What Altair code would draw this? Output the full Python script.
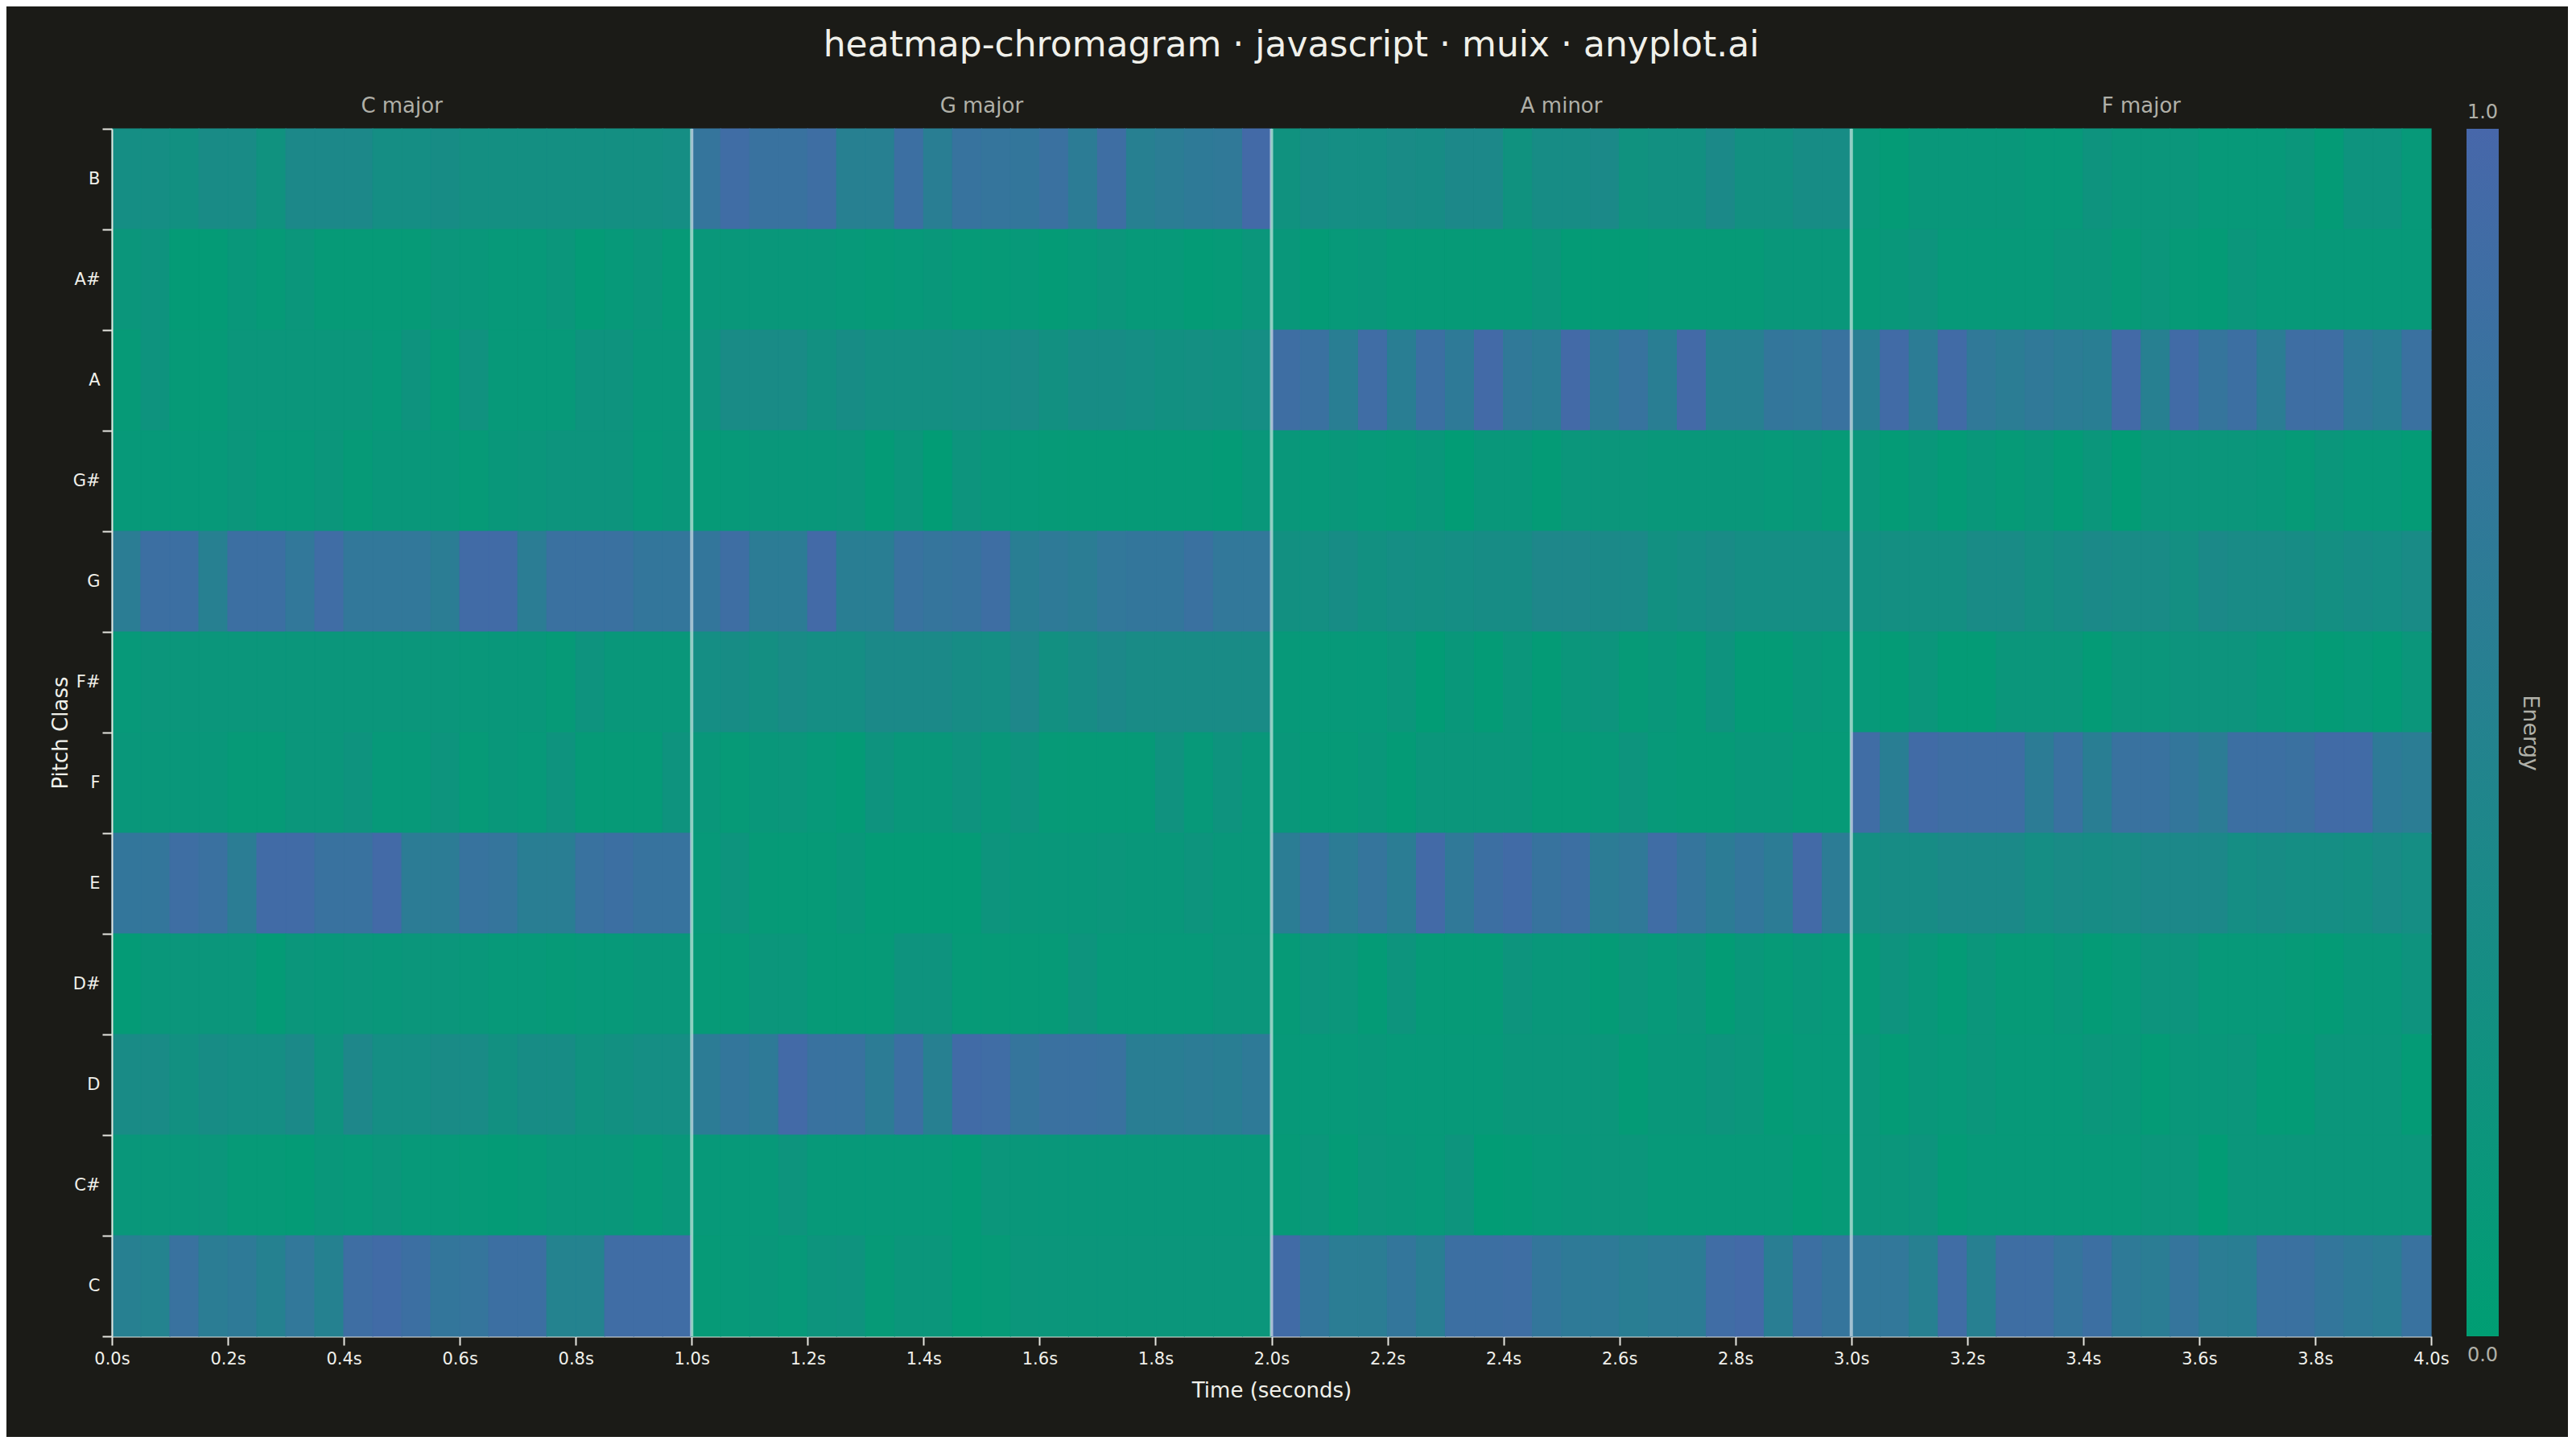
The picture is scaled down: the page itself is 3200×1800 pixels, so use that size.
import altair as alt
import pandas as pd

# ---------------- data ----------------
PITCHES = ["B", "A#", "A", "G#", "G", "F#", "F", "E", "D#", "D", "C#", "C"]
FRAME = 0.05  # seconds per frame (20 frames per second, 80 frames)

B_ENERGY = [
    0.30, 0.30, 0.25, 0.35, 0.35, 0.22, 0.40, 0.40, 0.40, 0.30, 0.30, 0.32, 0.28, 0.28, 0.28, 0.28, 0.28, 0.28, 0.28, 0.30,
    0.75, 0.90, 0.80, 0.80, 0.88, 0.55, 0.55, 0.85, 0.58, 0.78, 0.75, 0.72, 0.82, 0.62, 0.88, 0.55, 0.60, 0.65, 0.68, 0.95,
    0.22, 0.32, 0.30, 0.30, 0.35, 0.32, 0.40, 0.40, 0.22, 0.32, 0.32, 0.38, 0.22, 0.25, 0.25, 0.38, 0.25, 0.25, 0.32, 0.32,
    0.12, 0.05, 0.12, 0.12, 0.12, 0.12, 0.10, 0.10, 0.20, 0.15, 0.15, 0.15, 0.10, 0.10, 0.10, 0.15, 0.05, 0.20, 0.20, 0.10,
]
AS_ENERGY = [
    0.15, 0.20, 0.05, 0.05, 0.12, 0.08, 0.15, 0.08, 0.08, 0.08, 0.08, 0.15, 0.12, 0.10, 0.10, 0.15, 0.05, 0.10, 0.15, 0.08,
    0.12, 0.12, 0.12, 0.12, 0.12, 0.10, 0.08, 0.10, 0.12, 0.08, 0.08, 0.10, 0.05, 0.10, 0.15, 0.10, 0.10, 0.05, 0.08, 0.15,
    0.12, 0.05, 0.10, 0.12, 0.08, 0.08, 0.08, 0.08, 0.08, 0.15, 0.05, 0.05, 0.05, 0.08, 0.08, 0.08, 0.08, 0.12, 0.12, 0.12,
    0.08, 0.12, 0.18, 0.10, 0.10, 0.10, 0.10, 0.15, 0.15, 0.08, 0.15, 0.08, 0.05, 0.15, 0.10, 0.10, 0.10, 0.10, 0.10, 0.10,
]
A_ENERGY = [
    0.08, 0.20, 0.08, 0.08, 0.15, 0.15, 0.15, 0.15, 0.15, 0.10, 0.20, 0.08, 0.22, 0.10, 0.10, 0.10, 0.20, 0.20, 0.12, 0.12,
    0.20, 0.35, 0.35, 0.35, 0.25, 0.32, 0.28, 0.28, 0.28, 0.30, 0.30, 0.35, 0.25, 0.32, 0.32, 0.30, 0.25, 0.28, 0.25, 0.30,
    0.88, 0.82, 0.58, 0.90, 0.58, 0.85, 0.65, 0.95, 0.68, 0.60, 0.95, 0.65, 0.78, 0.58, 0.95, 0.55, 0.55, 0.72, 0.70, 0.80,
    0.58, 0.92, 0.62, 0.92, 0.68, 0.60, 0.68, 0.62, 0.58, 0.95, 0.55, 0.92, 0.75, 0.85, 0.60, 0.88, 0.88, 0.65, 0.58, 0.82,
]
GS_ENERGY = [
    0.10, 0.10, 0.10, 0.10, 0.15, 0.10, 0.10, 0.15, 0.08, 0.12, 0.12, 0.12, 0.08, 0.12, 0.15, 0.18, 0.18, 0.18, 0.10, 0.12,
    0.08, 0.10, 0.12, 0.12, 0.12, 0.15, 0.05, 0.15, 0.03, 0.18, 0.12, 0.10, 0.08, 0.08, 0.08, 0.08, 0.08, 0.08, 0.05, 0.12,
    0.12, 0.10, 0.12, 0.10, 0.08, 0.12, 0.03, 0.12, 0.12, 0.05, 0.15, 0.15, 0.15, 0.12, 0.12, 0.12, 0.12, 0.10, 0.12, 0.08,
    0.15, 0.05, 0.12, 0.05, 0.12, 0.08, 0.12, 0.05, 0.15, 0.03, 0.15, 0.15, 0.15, 0.15, 0.12, 0.08, 0.15, 0.10, 0.10, 0.05,
]
G_ENERGY = [
    0.60, 0.85, 0.85, 0.55, 0.85, 0.85, 0.70, 0.90, 0.70, 0.70, 0.70, 0.60, 0.92, 0.92, 0.60, 0.82, 0.82, 0.82, 0.72, 0.72,
    0.72, 0.88, 0.62, 0.62, 0.95, 0.58, 0.58, 0.80, 0.75, 0.78, 0.88, 0.58, 0.65, 0.60, 0.70, 0.72, 0.72, 0.82, 0.70, 0.70,
    0.25, 0.28, 0.32, 0.25, 0.30, 0.28, 0.30, 0.32, 0.32, 0.42, 0.42, 0.38, 0.38, 0.25, 0.30, 0.35, 0.30, 0.30, 0.30, 0.30,
    0.25, 0.28, 0.28, 0.28, 0.35, 0.35, 0.28, 0.32, 0.38, 0.35, 0.35, 0.28, 0.38, 0.35, 0.35, 0.32, 0.28, 0.32, 0.30, 0.35,
]
FS_ENERGY = [
    0.10, 0.15, 0.15, 0.15, 0.15, 0.15, 0.15, 0.15, 0.15, 0.15, 0.15, 0.15, 0.12, 0.12, 0.12, 0.08, 0.20, 0.12, 0.12, 0.12,
    0.30, 0.32, 0.28, 0.35, 0.30, 0.30, 0.38, 0.38, 0.38, 0.32, 0.30, 0.42, 0.25, 0.32, 0.40, 0.35, 0.35, 0.35, 0.35, 0.35,
    0.10, 0.10, 0.10, 0.10, 0.15, 0.03, 0.12, 0.05, 0.15, 0.05, 0.15, 0.18, 0.08, 0.12, 0.08, 0.20, 0.05, 0.05, 0.12, 0.10,
    0.10, 0.05, 0.15, 0.05, 0.05, 0.15, 0.15, 0.15, 0.05, 0.15, 0.15, 0.18, 0.18, 0.18, 0.12, 0.10, 0.05, 0.10, 0.05, 0.15,
]
F_ENERGY = [
    0.12, 0.12, 0.12, 0.12, 0.08, 0.08, 0.15, 0.15, 0.20, 0.10, 0.10, 0.18, 0.08, 0.12, 0.10, 0.20, 0.08, 0.08, 0.08, 0.20,
    0.12, 0.08, 0.12, 0.15, 0.10, 0.05, 0.20, 0.12, 0.12, 0.20, 0.12, 0.20, 0.08, 0.08, 0.08, 0.08, 0.22, 0.10, 0.20, 0.12,
    0.12, 0.08, 0.08, 0.12, 0.05, 0.15, 0.15, 0.15, 0.15, 0.08, 0.08, 0.10, 0.18, 0.10, 0.08, 0.08, 0.12, 0.12, 0.08, 0.08,
    0.90, 0.58, 0.92, 0.88, 0.88, 0.88, 0.62, 0.82, 0.58, 0.80, 0.80, 0.72, 0.62, 0.85, 0.85, 0.82, 0.92, 0.92, 0.65, 0.60,
]
E_ENERGY = [
    0.72, 0.72, 0.88, 0.82, 0.60, 0.92, 0.92, 0.80, 0.80, 0.95, 0.62, 0.62, 0.78, 0.75, 0.58, 0.58, 0.80, 0.85, 0.78, 0.78,
    0.10, 0.18, 0.08, 0.08, 0.08, 0.12, 0.05, 0.05, 0.05, 0.05, 0.18, 0.12, 0.12, 0.12, 0.15, 0.12, 0.12, 0.18, 0.12, 0.12,
    0.60, 0.78, 0.62, 0.75, 0.60, 0.95, 0.68, 0.85, 0.92, 0.78, 0.85, 0.62, 0.68, 0.90, 0.75, 0.62, 0.72, 0.62, 0.95, 0.62,
    0.28, 0.32, 0.32, 0.38, 0.38, 0.38, 0.30, 0.35, 0.32, 0.35, 0.40, 0.40, 0.40, 0.30, 0.33, 0.30, 0.30, 0.28, 0.35, 0.30,
]
DS_ENERGY = [
    0.05, 0.12, 0.15, 0.15, 0.15, 0.05, 0.15, 0.12, 0.15, 0.12, 0.15, 0.15, 0.12, 0.10, 0.10, 0.08, 0.10, 0.10, 0.12, 0.12,
    0.08, 0.08, 0.15, 0.15, 0.08, 0.08, 0.08, 0.20, 0.20, 0.08, 0.08, 0.08, 0.08, 0.18, 0.10, 0.10, 0.10, 0.10, 0.15, 0.15,
    0.08, 0.18, 0.15, 0.06, 0.18, 0.08, 0.08, 0.08, 0.18, 0.12, 0.12, 0.05, 0.15, 0.10, 0.15, 0.04, 0.12, 0.08, 0.12, 0.10,
    0.08, 0.20, 0.12, 0.05, 0.15, 0.08, 0.08, 0.12, 0.05, 0.10, 0.18, 0.18, 0.10, 0.10, 0.10, 0.08, 0.05, 0.12, 0.12, 0.20,
]
D_ENERGY = [
    0.35, 0.35, 0.25, 0.32, 0.30, 0.30, 0.38, 0.20, 0.42, 0.30, 0.30, 0.35, 0.35, 0.25, 0.32, 0.32, 0.22, 0.25, 0.30, 0.30,
    0.62, 0.72, 0.65, 0.95, 0.80, 0.80, 0.62, 0.85, 0.55, 0.92, 0.90, 0.75, 0.82, 0.82, 0.80, 0.58, 0.58, 0.62, 0.58, 0.65,
    0.10, 0.10, 0.10, 0.12, 0.10, 0.10, 0.10, 0.10, 0.15, 0.15, 0.15, 0.15, 0.05, 0.12, 0.12, 0.18, 0.15, 0.06, 0.10, 0.10,
    0.15, 0.05, 0.12, 0.10, 0.15, 0.10, 0.10, 0.10, 0.15, 0.12, 0.05, 0.12, 0.12, 0.15, 0.06, 0.06, 0.15, 0.15, 0.15, 0.05,
]
CS_ENERGY = [
    0.12, 0.12, 0.12, 0.15, 0.08, 0.08, 0.05, 0.12, 0.10, 0.15, 0.10, 0.10, 0.08, 0.05, 0.08, 0.12, 0.12, 0.12, 0.08, 0.12,
    0.10, 0.10, 0.10, 0.18, 0.10, 0.10, 0.10, 0.10, 0.10, 0.06, 0.15, 0.12, 0.12, 0.12, 0.12, 0.12, 0.12, 0.12, 0.12, 0.12,
    0.08, 0.15, 0.05, 0.15, 0.12, 0.10, 0.18, 0.03, 0.06, 0.10, 0.12, 0.15, 0.15, 0.10, 0.10, 0.10, 0.10, 0.10, 0.04, 0.08,
    0.15, 0.15, 0.18, 0.05, 0.10, 0.10, 0.10, 0.10, 0.10, 0.10, 0.15, 0.15, 0.03, 0.15, 0.15, 0.15, 0.15, 0.15, 0.15, 0.15,
]
C_ENERGY = [
    0.55, 0.50, 0.80, 0.60, 0.65, 0.52, 0.70, 0.52, 0.88, 0.92, 0.85, 0.72, 0.75, 0.85, 0.85, 0.50, 0.50, 0.90, 0.90, 0.90,
    0.08, 0.10, 0.12, 0.10, 0.18, 0.20, 0.08, 0.15, 0.15, 0.05, 0.08, 0.15, 0.15, 0.15, 0.15, 0.15, 0.15, 0.15, 0.15, 0.15,
    0.92, 0.72, 0.60, 0.60, 0.72, 0.58, 0.85, 0.85, 0.88, 0.72, 0.65, 0.65, 0.58, 0.62, 0.62, 0.90, 0.95, 0.58, 0.85, 0.75,
    0.70, 0.70, 0.55, 0.90, 0.55, 0.88, 0.88, 0.75, 0.85, 0.65, 0.60, 0.75, 0.60, 0.58, 0.82, 0.82, 0.72, 0.65, 0.60, 0.80,
]

ROWS = {
    "B": B_ENERGY, "A#": AS_ENERGY, "A": A_ENERGY, "G#": GS_ENERGY, "G": G_ENERGY, "F#": FS_ENERGY,
    "F": F_ENERGY, "E": E_ENERGY, "D#": DS_ENERGY, "D": D_ENERGY, "C#": CS_ENERGY, "C": C_ENERGY,
}

KEYS = ["C major", "G major", "A minor", "F major"]
KEY_CENTERS = [0.5, 1.5, 2.5, 3.5]
KEY_BOUNDARIES = [1.0, 2.0, 3.0]
X_TICKS = [0.0, 0.2, 0.4, 0.6, 0.8, 1.0, 1.2, 1.4, 1.6, 1.8, 2.0,
           2.2, 2.4, 2.6, 2.8, 3.0, 3.2, 3.4, 3.6, 3.8, 4.0]
CB_VALUES = [1.0, 0.0]
CB_LABELS = ["1.0", "0.0"]

# ---------------- style ----------------
BG = "#1b1b17"
GREEN = "#009E73"
BLUE = "#4767AA"
FONT = "DejaVu Sans"
TEXT = "#f0f0ea"
MUTED = "#b0b0a8"
AXIS = "#e6e6e0"

records = []
for p in PITCHES:
    for i, v in enumerate(ROWS[p]):
        records.append({"pitch": p, "t": round(i * FRAME, 3), "t2": round((i + 1) * FRAME, 3), "energy": v})
df = pd.DataFrame(records)

W, H = 2881, 1500

x_scale = alt.Scale(domain=[0, 4], nice=False, zero=False)
energy_scale = alt.Scale(domain=[0, 1], range=[GREEN, BLUE], interpolate="rgb")

heat = alt.Chart(df).mark_rect(strokeWidth=1.2).encode(
    x=alt.X(
        "t:Q",
        scale=x_scale,
        axis=alt.Axis(
            values=X_TICKS,
            labelExpr="format(datum.value, '.1f') + 's'",
            title="Time (seconds)",
            grid=False,
            labelFlush=False,
            labelOverlap=False,
            tickSize=11,
            tickWidth=2,
            tickColor=AXIS,
            domainColor=AXIS,
            domainWidth=2,
            labelColor=TEXT,
            labelFont=FONT,
            labelFontSize=21,
            labelPadding=6,
            titleColor=TEXT,
            titleFont=FONT,
            titleFontSize=26,
            titleFontWeight="normal",
            titlePadding=16,
        ),
    ),
    x2="t2:Q",
    y=alt.Y(
        "pitch:N",
        sort=PITCHES,
        scale=alt.Scale(paddingInner=0, paddingOuter=0),
        axis=alt.Axis(
            title="Pitch Class",
            tickBand="extent",
            tickSize=12,
            tickWidth=2,
            tickColor=AXIS,
            domainColor=AXIS,
            domainWidth=2,
            labelColor=TEXT,
            labelFont=FONT,
            labelFontSize=21,
            labelPadding=3,
            titleColor=TEXT,
            titleFont=FONT,
            titleFontSize=26,
            titleFontWeight="normal",
            titlePadding=2,
        ),
    ),
    color=alt.Color("energy:Q", scale=energy_scale, legend=None),
    stroke=alt.Stroke("energy:Q", scale=energy_scale, legend=None),
)

rules = alt.Chart(pd.DataFrame({"t": KEY_BOUNDARIES})).mark_rule(
    color="#ffffff", opacity=0.55, strokeWidth=4
).encode(x=alt.X("t:Q", scale=x_scale))

key_labels = alt.Chart(pd.DataFrame({"t": KEY_CENTERS, "name": KEYS})).mark_text(
    font=FONT, fontSize=26, color=MUTED, baseline="middle", dy=-28
).encode(x=alt.X("t:Q", scale=x_scale), y=alt.value(0), text="name:N")

main = alt.layer(heat, rules, key_labels).properties(width=W, height=H)

# ---------------- colour bar ----------------
cb_scale = alt.Scale(domain=[0, 1])
cb_bar = alt.Chart(pd.DataFrame({"lo": [0.0], "hi": [1.0]})).mark_rect(
    fill=alt.LinearGradient(
        gradient="linear",
        stops=[alt.GradientStop(color=GREEN, offset=0), alt.GradientStop(color=BLUE, offset=1)],
        x1=0, x2=0, y1=1, y2=0,
    )
).encode(
    y=alt.Y(
        "lo:Q",
        scale=cb_scale,
        axis=alt.Axis(
            orient="right", title="Energy", labels=False, ticks=False, domain=False, grid=False,
            titleColor=MUTED, titleFont=FONT, titleFontSize=27, titleFontWeight="normal", titlePadding=24,
        ),
    ),
    y2="hi:Q",
)

cb_df = pd.DataFrame({"v": CB_VALUES, "label": CB_LABELS})
cb_top = alt.Chart(cb_df).transform_filter("datum.v == 1").mark_text(
    font=FONT, fontSize=24, color=MUTED, baseline="middle", dy=-20
).encode(y=alt.Y("v:Q", scale=cb_scale), x=alt.value(20), text="label:N")
cb_bottom = alt.Chart(cb_df).transform_filter("datum.v == 0").mark_text(
    font=FONT, fontSize=24, color=MUTED, baseline="middle", dy=24
).encode(y=alt.Y("v:Q", scale=cb_scale), x=alt.value(20), text="label:N")

colorbar = alt.layer(cb_bar, cb_top, cb_bottom).properties(width=40, height=H)

chart = alt.hconcat(main, colorbar, spacing=44, bounds="flush").properties(
    title=alt.TitleParams(
        "heatmap-chromagram · javascript · muix · anyplot.ai",
        font=FONT, fontSize=44, color=TEXT, fontWeight="normal", anchor="middle", offset=40, dx=-5,
    ),
    background=BG,
    padding={"left": 54, "top": 27, "right": 34, "bottom": 45},
).configure_view(strokeWidth=0)

chart.save("out.html", embed_options={"renderer": "svg", "actions": False})
